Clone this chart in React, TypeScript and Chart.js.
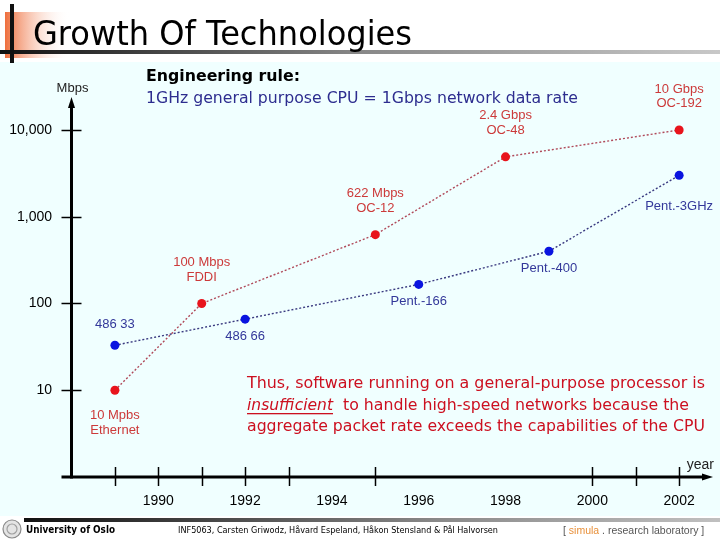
import React, { useEffect, useRef } from "react";
import { Chart, registerables } from "chart.js";

Chart.register(...registerables);

// ---- data ----
const networkYears = [1989, 1991, 1995, 1998, 2002];
const networkMbps = [10, 100, 622, 4900, 10000];
const networkLabels = [
  ["10 Mpbs", "Ethernet"],
  ["100 Mbps", "FDDI"],
  ["622 Mbps", "OC-12"],
  ["2.4 Gbps", "OC-48"],
  ["10 Gbps", "OC-192"],
];
const cpuYears = [1989, 1992, 1996, 1999, 2002];
const cpuMbps = [33, 66, 166, 400, 3000];
const cpuLabels = ["486 33", "486 66", "Pent.-166", "Pent.-400", "Pent.-3GHz"];

const yTicks = [10, 100, 1000, 10000];
const yTickLabels = ["10", "100", "1,000", "10,000"];
const xLabelYears = [1990, 1992, 1994, 1996, 1998, 2000, 2002];
const xMarkYears = [1989, 1990, 1991, 1992, 1993, 1995, 2000, 2001, 2002];

const titleText = "Growth Of Technologies";
const ruleHead = "Engineering rule:";
const ruleText = "1GHz general purpose CPU = 1Gbps network data rate";
const noteLine1 = "Thus, software running on a general-purpose processor is";
const noteEm = "insufficient";
const noteLine2 = "to handle high-speed networks because the";
const noteLine3 = "aggregate packet rate exceeds the capabilities of the CPU";
const footLeft = "University of Oslo";
const footMid = "INF5063, Carsten Griwodz, Håvard Espeland, Håkon Stensland & Pål Halvorsen";

// ---- styles ----
const BG = "#f0ffff";
const RED_PT = "#e8141c";
const BLUE_PT = "#0a14e0";
const RED_LINE = "#b04a5a";
const BLUE_LINE = "#3a3a80";
const RED_TXT = "#cc3a3a";
const BLUE_TXT = "#33389a";
const SANS = "'Liberation Sans', Arial, sans-serif";
const TAHOMA = "'DejaVu Sans', Verdana, sans-serif";

// label offsets (style only)
const redLabelDy = (i: number) => (i === 0 ? [25, 40] : [-41, -26.5]);
const blueLabelDy = (i: number) => (i === 0 ? -21 : i === 4 ? 31 : 17.5);

const decorPlugin = {
  id: "decor",
  beforeDraw(chart: any) {
    const ctx = chart.ctx as CanvasRenderingContext2D;
    ctx.save();
    ctx.fillStyle = "#ffffff";
    ctx.fillRect(0, 0, 720, 540);
    ctx.fillStyle = BG;
    ctx.fillRect(0, 62, 720, 454);

    // title decoration
    const og = ctx.createLinearGradient(5, 0, 70, 0);
    og.addColorStop(0, "rgba(238,110,60,1)");
    og.addColorStop(1, "rgba(255,255,255,0)");
    ctx.fillStyle = og;
    ctx.fillRect(5, 12, 65, 46);
    const lg = ctx.createLinearGradient(0, 0, 720, 0);
    lg.addColorStop(0, "#111111");
    lg.addColorStop(0.5, "#888888");
    lg.addColorStop(1, "#c8c8c8");
    ctx.fillStyle = lg;
    ctx.fillRect(0, 50, 720, 4);
    ctx.fillStyle = "#111";
    ctx.fillRect(10, 4, 4, 59);
    ctx.fillStyle = "#000";
    ctx.font = `34px ${TAHOMA}`;
    ctx.textBaseline = "alphabetic";
    ctx.textAlign = "left";
    ctx.fillText(titleText, 33, 45, 379);

    // footer
    const fg = ctx.createLinearGradient(24, 0, 720, 0);
    fg.addColorStop(0, "#111111");
    fg.addColorStop(0.6, "#8a8a8a");
    fg.addColorStop(1, "#c0c0c0");
    ctx.fillStyle = fg;
    ctx.fillRect(24, 518, 696, 4);
    ctx.beginPath();
    ctx.arc(12, 529, 9, 0, Math.PI * 2);
    ctx.fillStyle = "#e4e4e4";
    ctx.fill();
    ctx.strokeStyle = "#8a8a8a";
    ctx.lineWidth = 1.2;
    ctx.stroke();
    ctx.beginPath();
    ctx.arc(12, 529, 5, 0, Math.PI * 2);
    ctx.strokeStyle = "#a0a0a0";
    ctx.stroke();
    ctx.fillStyle = "#000";
    ctx.textBaseline = "middle";
    ctx.font = `bold 11px ${TAHOMA}`;
    ctx.fillText(footLeft, 26, 530, 89);
    ctx.font = `9px ${TAHOMA}`;
    ctx.fillText(footMid, 178, 531, 320);
    ctx.font = `10.5px ${SANS}`;
    let fx = 563;
    const parts: [string, string][] = [
      ["[ ", "#555"],
      ["simula", "#e8903a"],
      [" . research laboratory ]", "#555"],
    ];
    for (const [t, c] of parts) {
      ctx.fillStyle = c;
      ctx.fillText(t, fx, 531);
      fx += ctx.measureText(t).width;
    }
    ctx.restore();
  },
  beforeDatasetsDraw(chart: any) {
    const ctx = chart.ctx as CanvasRenderingContext2D;
    const xs = chart.scales.x;
    const ys = chart.scales.y;
    const x0 = xs.getPixelForValue(xs.min);
    const y0 = ys.getPixelForValue(ys.min);
    ctx.save();
    ctx.strokeStyle = "#000";
    ctx.fillStyle = "#000";
    ctx.lineWidth = 3;
    ctx.beginPath();
    ctx.moveTo(x0, y0 + 1.5);
    ctx.lineTo(x0, ys.top + 8);
    ctx.stroke();
    ctx.beginPath();
    ctx.moveTo(x0, ys.top);
    ctx.lineTo(x0 - 3.5, ys.top + 11);
    ctx.lineTo(x0 + 3.5, ys.top + 11);
    ctx.closePath();
    ctx.fill();
    ctx.beginPath();
    ctx.moveTo(x0 - 10, y0);
    ctx.lineTo(xs.right - 8, y0);
    ctx.stroke();
    ctx.beginPath();
    ctx.moveTo(xs.right, y0);
    ctx.lineTo(xs.right - 11, y0 - 3.5);
    ctx.lineTo(xs.right - 11, y0 + 3.5);
    ctx.closePath();
    ctx.fill();
    ctx.lineWidth = 1.5;
    for (const v of yTicks) {
      const py = Math.round(ys.getPixelForValue(v)) + 0.5;
      ctx.beginPath();
      ctx.moveTo(x0 - 10, py);
      ctx.lineTo(x0 + 10, py);
      ctx.stroke();
    }
    for (const v of xMarkYears) {
      const px = Math.round(xs.getPixelForValue(v)) + 0.5;
      ctx.beginPath();
      ctx.moveTo(px, y0 - 10);
      ctx.lineTo(px, y0 + 9);
      ctx.stroke();
    }
    // axis titles
    ctx.font = `13px ${SANS}`;
    ctx.textAlign = "center";
    ctx.textBaseline = "middle";
    ctx.fillStyle = "#222";
    ctx.fillText("Mbps", x0 + 1, 88);
    ctx.font = `14px ${SANS}`;
    ctx.textAlign = "right";
    ctx.fillText("year", xs.right + 1, y0 - 12);

    // text blocks
    ctx.textAlign = "left";
    ctx.fillStyle = "#000";
    ctx.font = `bold 16px ${TAHOMA}`;
    ctx.fillText(ruleHead, 146, 77, 154);
    ctx.fillStyle = "#2d2d8f";
    ctx.font = `16px ${TAHOMA}`;
    ctx.fillText(ruleText, 146, 99, 432);

    ctx.fillStyle = "#cc1020";
    ctx.fillText(noteLine1, 247, 384, 458);
    ctx.font = `italic 16px ${TAHOMA}`;
    ctx.fillText(noteEm, 247, 405.5, 86);
    ctx.fillRect(247, 413, 86, 1.3);
    ctx.font = `16px ${TAHOMA}`;
    ctx.fillText(noteLine2, 343, 405.5, 346);
    ctx.fillText(noteLine3, 247, 427, 458);
    ctx.restore();
  },
  afterDatasetsDraw(chart: any) {
    const ctx = chart.ctx as CanvasRenderingContext2D;
    ctx.save();
    ctx.textAlign = "center";
    ctx.textBaseline = "middle";
    ctx.font = `13px ${SANS}`;
    const red = chart.getDatasetMeta(0).data;
    red.forEach((pt: any, i: number) => {
      const [d1, d2] = redLabelDy(i);
      ctx.fillStyle = RED_TXT;
      ctx.fillText(networkLabels[i][0], pt.x, pt.y + d1);
      ctx.fillText(networkLabels[i][1], pt.x, pt.y + d2);
    });
    const blue = chart.getDatasetMeta(1).data;
    blue.forEach((pt: any, i: number) => {
      ctx.fillStyle = BLUE_TXT;
      ctx.fillText(cpuLabels[i], pt.x, pt.y + blueLabelDy(i));
    });
    ctx.restore();
  },
};

export default function App() {
  const ref = useRef<HTMLCanvasElement | null>(null);
  useEffect(() => {
    if (!ref.current) return;
    const chart = new Chart(ref.current, {
      type: "line",
      data: {
        datasets: [
          {
            label: "Network",
            data: networkYears.map((x, i) => ({ x, y: networkMbps[i] })),
            borderColor: RED_LINE,
            borderWidth: 1.4,
            borderDash: [2, 2],
            pointRadius: 4.5,
            pointBackgroundColor: RED_PT,
            pointBorderWidth: 0,
            fill: false,
          },
          {
            label: "CPU",
            data: cpuYears.map((x, i) => ({ x, y: cpuMbps[i] })),
            borderColor: BLUE_LINE,
            borderWidth: 1.4,
            borderDash: [2, 2],
            pointRadius: 4.5,
            pointBackgroundColor: BLUE_PT,
            pointBorderWidth: 0,
            fill: false,
          },
        ],
      },
      options: {
        responsive: false,
        animation: false,
        layout: { padding: { top: 97, right: 7, bottom: 23, left: 0 } },
        plugins: {
          legend: { display: false },
          tooltip: { enabled: false },
          title: { display: false },
        },
        scales: {
          x: {
            type: "linear",
            min: 1988,
            max: 2002.78,
            grid: { display: false, drawTicks: false },
            border: { display: false },
            afterBuildTicks: (s: any) => {
              s.ticks = xLabelYears.map((v) => ({ value: v }));
            },
            afterFit: (s: any) => {
              s.height = 40;
            },
            ticks: {
              autoSkip: false,
              maxRotation: 0,
              padding: 16,
              color: "#000",
              font: { family: SANS, size: 14 },
              callback: (v: any) => String(v),
            },
          },
          y: {
            type: "logarithmic",
            min: 1,
            max: 24000,
            grid: { display: false, drawTicks: false },
            border: { display: false },
            afterBuildTicks: (s: any) => {
              s.ticks = yTicks.map((v) => ({ value: v }));
            },
            afterFit: (s: any) => {
              s.width = 71.5;
            },
            ticks: {
              padding: 19.5,
              color: "#000",
              font: { family: SANS, size: 14 },
              callback: (v: any) => {
                const i = yTicks.indexOf(Number(v));
                return i >= 0 ? yTickLabels[i] : "";
              },
            },
          },
        },
      },
      plugins: [decorPlugin],
    } as any);
    return () => chart.destroy();
  }, []);
  return (
    <div style={{ position: "fixed", left: 0, top: 0, width: 720, height: 540, background: "#fff" }}>
      <canvas ref={ref} width={720} height={540} style={{ display: "block", width: 720, height: 540 }} />
    </div>
  );
}
